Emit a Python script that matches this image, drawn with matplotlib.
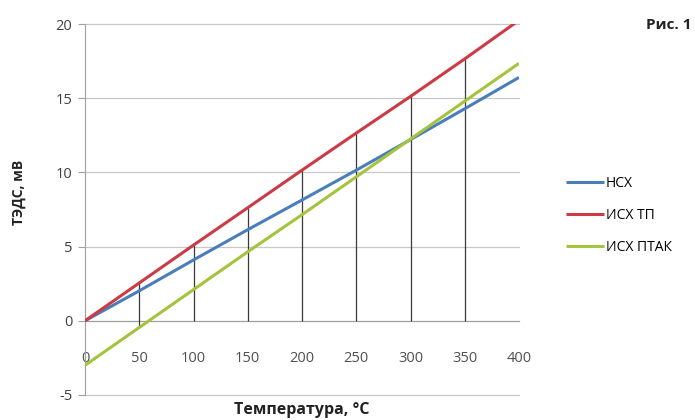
import matplotlib
matplotlib.use("Agg")
import matplotlib.pyplot as plt
import numpy as np

plt.rcParams['font.family'] = ['Open Sans', 'DejaVu Sans']
plt.rcParams['axes.unicode_minus'] = False

temps = [0, 50, 100, 150, 200, 250, 300, 350, 400]
nsx = [0, 2.02, 4.10, 6.14, 8.14, 10.15, 12.21, 14.29, 16.40]
isx_tp = [0, 2.55, 5.10, 7.62, 10.15, 12.65, 15.12, 17.65, 20.25]
isx_ptak = [-3.0, -0.45, 2.10, 4.65, 7.15, 9.70, 12.25, 14.80, 17.35]
yticks = [-5, 0, 5, 10, 15, 20]
xticks = [0, 50, 100, 150, 200, 250, 300, 350, 400]
series_names = ['НСХ', 'ИСХ ТП', 'ИСХ ПТАК']
colors = ['#4a7ebb', '#cc3a45', '#a4c43c']

fig = plt.figure(figsize=(6.95, 4.2), dpi=100)
ax = fig.add_axes([85/695, 25/420, (519-85)/695, (395-24)/420])
ax.set_xlim(0, 400)
ax.set_ylim(-5, 20)

for y in yticks:
    ax.axhline(y, color='#c8c8c8', lw=0.9, zorder=1, clip_on=False)

# drop lines
allv = np.array([nsx, isx_tp, isx_ptak])
for i, t in enumerate(temps):
    if t in (0, 400):
        continue
    lo = min(0, allv[:, i].min())
    hi = max(0, allv[:, i].max())
    ax.vlines(t, lo, hi, color='#3a3a3a', lw=0.9, zorder=2)

lines = []
for vals, c, name in zip([nsx, isx_tp, isx_ptak], colors, series_names):
    l, = ax.plot(temps, vals, color=c, lw=2.2, label=name, zorder=3, solid_capstyle='butt')
    lines.append(l)

for s in ['top', 'right']:
    ax.spines[s].set_visible(False)
ax.spines['bottom'].set_position(('data', 0))
ax.spines['bottom'].set_color('#a0a0a0')
ax.spines['left'].set_color('#a0a0a0')
ax.spines['bottom'].set_zorder(1.5)

ax.set_yticks(yticks)
ax.set_xticks(xticks)
ax.tick_params(axis='y', length=5, color='#a0a0a0', labelsize=10.5, labelcolor='#404040', pad=4)
ax.tick_params(axis='x', length=0, labelsize=10.5, labelcolor='#505050', pad=22)

ax.set_xlabel('Температура, °С', fontsize=11.5, fontweight='bold', color='#222222')
ax.xaxis.set_label_coords(0.5, -0.018)
ax.set_ylabel('ТЭДС, мВ', fontsize=10, fontweight='bold', color='#222222')
ax.yaxis.set_label_coords(-0.135, 0.545)

leg = fig.legend(handles=lines, loc='upper left', bbox_to_anchor=(560/695, 1 - 170/420),
                 frameon=False, fontsize=10, handlelength=2.8, handletextpad=0.1,
                 labelspacing=1.25, borderaxespad=0)

fig.text(691/695, 1 - 25/420, 'Рис. 1', ha='right', va='center', fontsize=11,
         fontweight='bold', color='#222222')

fig.savefig('out.png', dpi=100)
